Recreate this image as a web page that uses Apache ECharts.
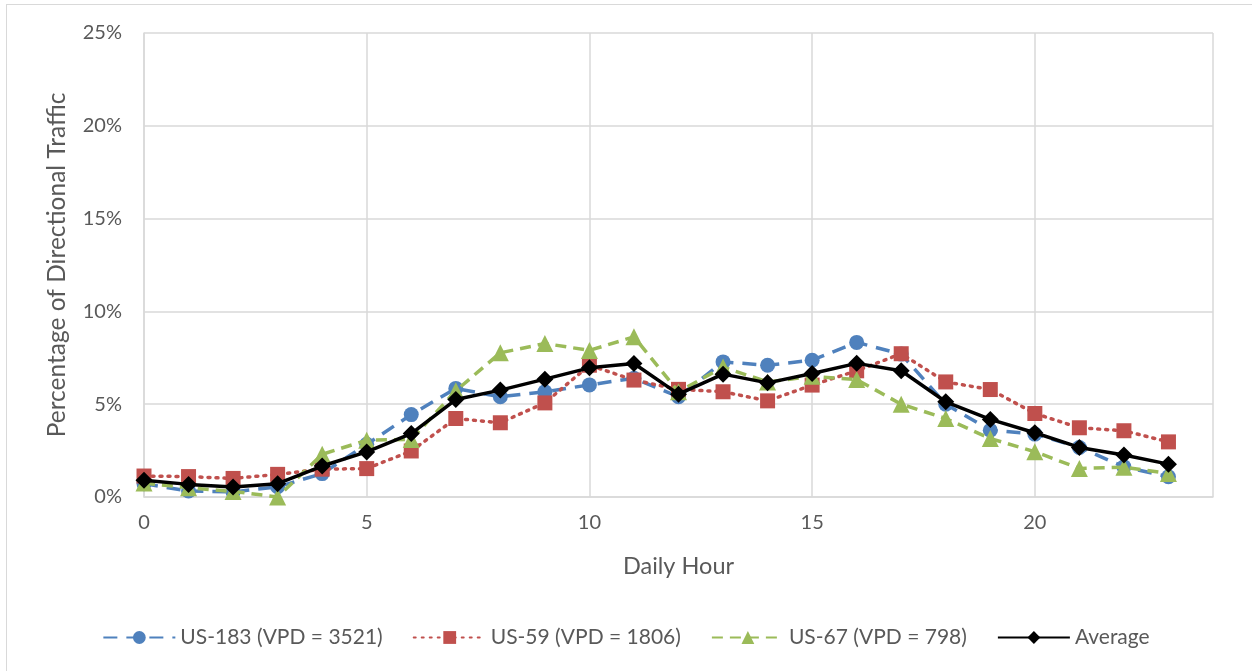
<!DOCTYPE html>
<html>
<head>
<meta charset="utf-8">
<script src="https://cdn.jsdelivr.net/npm/echarts@6/dist/echarts.min.js"></script>
<style>
html,body{margin:0;padding:0;background:#fff;overflow:hidden;}
#frame{position:absolute;left:6px;top:4px;width:1300px;height:720px;border:1.5px solid #d9d9d9;box-sizing:border-box;}
#chart{position:absolute;left:0;top:0;width:1252px;height:671px;}
</style>
</head>
<body>
<div id="frame"></div>
<div id="chart"></div>
<script>
const hours = [0,1,2,3,4,5,6,7,8,9,10,11,12,13,14,15,16,17,18,19,20,21,22,23];
const us183 = [0.72,0.32,0.27,0.55,1.26,2.84,4.44,5.85,5.4,5.67,6.04,6.4,5.4,7.28,7.1,7.37,8.33,7.7,5.0,3.6,3.39,2.67,1.63,1.09];
const us59  = [1.13,1.1,1.0,1.22,1.5,1.53,2.48,4.23,4.0,5.07,7.1,6.3,5.8,5.67,5.18,6.03,6.8,7.72,6.2,5.79,4.5,3.73,3.57,2.97];
const us67  = [0.75,0.5,0.3,0.0,2.3,3.06,3.1,5.72,7.77,8.27,7.9,8.63,5.67,7.0,6.2,6.5,6.33,5.0,4.23,3.15,2.44,1.54,1.6,1.27];
const avg   = [0.9,0.68,0.54,0.72,1.67,2.43,3.42,5.25,5.76,6.35,6.96,7.19,5.54,6.62,6.15,6.65,7.2,6.8,5.13,4.18,3.46,2.67,2.26,1.77];
const names = ['US-183 (VPD = 3521)','US-59 (VPD = 1806)','US-67 (VPD = 798)','Average'];
const yTicks = ['0%','5%','10%','15%','20%','25%'];

const FONT = 'Lato, "Open Sans", sans-serif';
const TXT = '#595959';
function pairs(arr){ return hours.map((h,i)=>[h, arr[i]]); }

const chart = echarts.init(document.getElementById('chart'), null, {renderer:'canvas'});
chart.setOption({
  animation:false,
  grid:{left:144, top:33, width:1069, height:464, containLabel:false},
  legend:{
    top:622, left:'center', itemWidth:72, itemHeight:16, itemGap:30,
    textStyle:{fontFamily:FONT, fontSize:21, color:TXT},
    data:names
  },
  xAxis:{
    type:'value', min:0, max:24, interval:5,
    name:'Daily Hour', nameLocation:'middle', nameGap:57,
    nameTextStyle:{fontFamily:FONT, fontSize:23.5, color:TXT},
    axisLine:{show:true, lineStyle:{color:'#d9d9d9', width:1.5}},
    axisTick:{show:false},
    axisLabel:{fontFamily:FONT, fontSize:20, color:TXT, margin:16, showMaxLabel:false,
      formatter:v=> (v%5===0 && v<=20) ? String(v) : ''},
    splitLine:{show:true, lineStyle:{color:'#d9d9d9', width:1.5}}
  },
  yAxis:{
    type:'value', min:0, max:25, interval:5,
    name:'Percentage of Directional Traffic', nameLocation:'middle', nameGap:74,
    nameTextStyle:{fontFamily:FONT, fontSize:24.5, color:TXT},
    axisLine:{show:true, lineStyle:{color:'#d9d9d9', width:1.5}},
    axisTick:{show:false},
    axisLabel:{fontFamily:FONT, fontSize:20, color:TXT, margin:22,
      formatter:v=> yTicks[Math.round(v/5)]},
    splitLine:{show:true, lineStyle:{color:'#d9d9d9', width:1.5}}
  },
  series:[
    {name:names[0], type:'line', data:pairs(us183), symbol:'circle', symbolSize:15,
     itemStyle:{color:'#4F81BD'}, lineStyle:{color:'#4F81BD', width:3.5, type:[14,9]}, z:2},
    {name:names[1], type:'line', data:pairs(us59), symbol:'rect', symbolSize:15,
     itemStyle:{color:'#C0504D'}, lineStyle:{color:'#C0504D', width:3.5, type:[2,6], cap:'round'}, z:3},
    {name:names[2], type:'line', data:pairs(us67), symbol:'triangle', symbolSize:17,
     itemStyle:{color:'#9BBB59'}, lineStyle:{color:'#9BBB59', width:3.5, type:[11,7]}, z:4},
    {name:names[3], type:'line', data:pairs(avg), symbol:'diamond', symbolSize:17,
     itemStyle:{color:'#000000'}, lineStyle:{color:'#000000', width:3.5}, z:5}
  ]
});
</script>
</body>
</html>
